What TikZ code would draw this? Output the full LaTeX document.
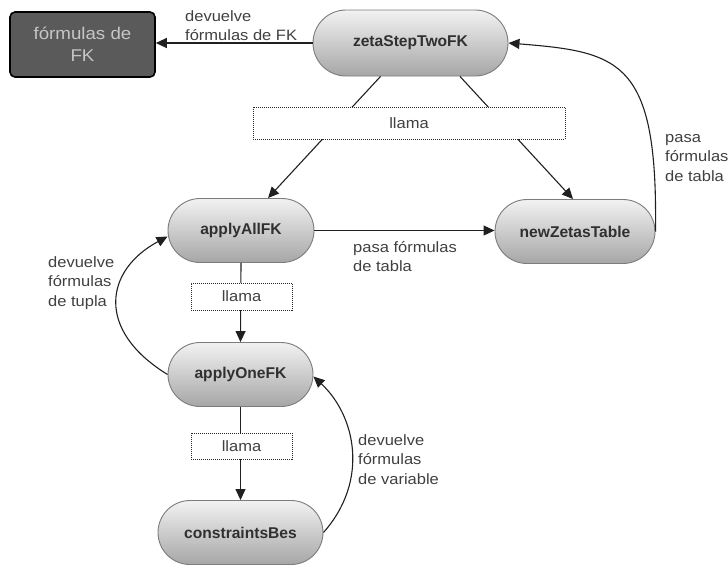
\documentclass[tikz,border=0pt]{standalone}
\usepackage{fontspec}
\setmainfont{Liberation Sans}
\newfontfamily\lblfont[FakeStretch=1.1]{Liberation Sans}
\usetikzlibrary{arrows.meta,calc,shapes.misc}

\definecolor{pilltop}{HTML}{F2F2F2}
\definecolor{pillbot}{HTML}{A6A6A6}
\definecolor{pillborder}{HTML}{7C7C7C}
\definecolor{nodetext}{HTML}{303030}
\definecolor{labeltext}{HTML}{404040}
\definecolor{darkfill}{HTML}{5A5A5A}
\definecolor{darktext}{HTML}{C6C6C6}
\definecolor{wire}{HTML}{202020}

\tikzset{
  pill/.style={rounded rectangle, draw=pillborder, line width=0.9pt,
    top color=pilltop, bottom color=pillbot, minimum height=64pt,
    inner sep=0pt, text=nodetext, font=\bfseries\fontsize{15.6}{18}\selectfont},
  darkbox/.style={rectangle, draw=black, line width=1.6pt, fill=darkfill,
    rounded corners=5pt, text=darktext, align=center,
    font=\lblfont\fontsize{17}{22}\selectfont},
  callbox/.style={rectangle, draw=black!85, line width=0.8pt,
    dash pattern=on 1pt off 1pt, fill=white, inner sep=0pt,
    text=labeltext, font=\lblfont\fontsize{15}{18}\selectfont},
  lbl/.style={align=left, inner sep=0pt, anchor=north west, text=labeltext,
    font=\lblfont\fontsize{15}{19.5}\selectfont},
  conn/.style={draw=wire, line width=1.1pt,
    -{Triangle[length=11pt,width=10pt]}},
}

\begin{document}
\begin{tikzpicture}[x=1pt,y=-1pt]
\useasboundingbox (0,0) rectangle (728,566);

% result box and the call chain
\node[darkbox, minimum width=145pt, minimum height=65pt] (fk) at (82.5,44.5) {fórmulas de\\FK};
\node[pill, minimum width=195pt, minimum height=66pt] (zeta) at (410.5,43) {zetaStepTwoFK};
\node[pill, minimum width=146pt] (aall) at (241,230.5) {applyAllFK};
\node[pill, minimum width=160pt] (nzt) at (575,231.5) {newZetasTable};
\node[pill, minimum width=145pt] (aone) at (240.5,374.5) {applyOneFK};
\node[pill, minimum width=165pt] (cbes) at (240.5,532.5) {constraintsBes};

% connectors
\draw[conn] (zeta.west) -- (zeta.west -| fk.east);
\draw[conn] ($(zeta.south)+(-30,0)$) -- ($(aall.north)+(27,0)$);
\draw[conn] ($(zeta.south)+(49.5,0)$) -- ($(nzt.north)+(-2,0)$);
\draw[conn] (aall.east) -- (aall.east -| nzt.west);
\draw[conn] (nzt.east) .. controls (658,60) and (620,52) .. (zeta.east);
\draw[conn] (aone.west) .. controls (95,330) and (105,270) .. ($(aall.west)+(0,6)$);
\draw[conn] (aall.south) -- (aone.north);
\draw[conn] (aone.south) -- (cbes.north);
\draw[conn] (cbes.east) .. controls (370,480) and (355,415) .. ($(aone.east)+(0,2)$);

% "llama" tags laid over the call lines
\node[callbox, minimum width=312pt, minimum height=32pt] (c1) at (409,123) {llama};
\node[callbox, minimum width=101pt, minimum height=27pt] (c2) at (241.5,296.5) {llama};
\node[callbox, minimum width=101pt, minimum height=26pt] (c3) at (241.5,446) {llama};

% connector labels
\node[lbl] (l1) at (185,10) {devuelve\\fórmulas de FK};
\node[lbl] (l2) at (353,241) {pasa fórmulas\\de tabla};
\node[lbl] (l3) at (665,134) {pasa\\fórmulas\\de tabla};
\node[lbl] (l4) at (48,256) {devuelve\\fórmulas\\de tupla};
\node[lbl] (l5) at (358,434) {devuelve\\fórmulas\\de variable};
\end{tikzpicture}
\end{document}
